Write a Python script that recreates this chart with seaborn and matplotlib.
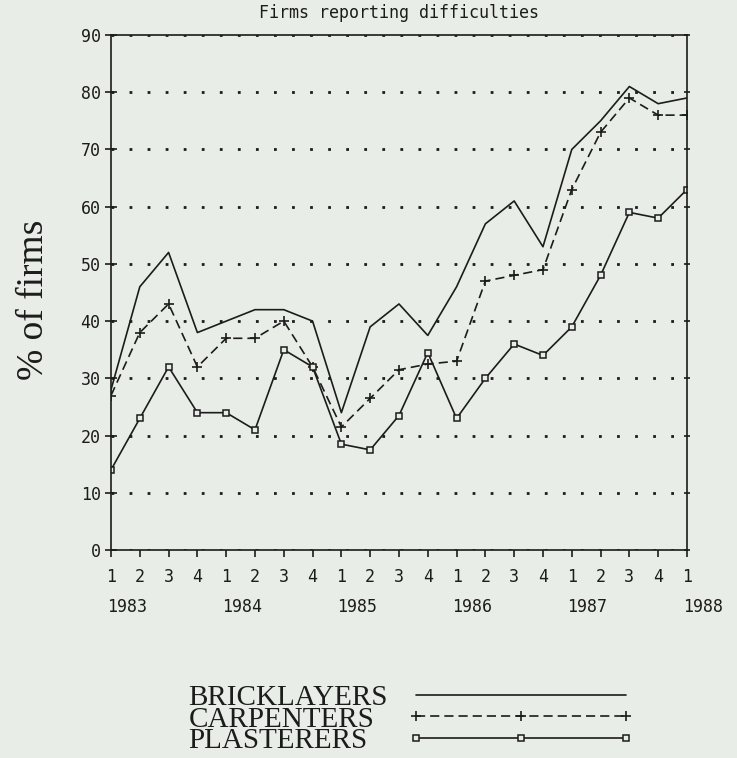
import pandas as pd
import matplotlib.pyplot as plt
import matplotlib.transforms as mtransforms
import seaborn as sns

# quarterly survey, 1983 Q1 .. 1988 Q1
quarters = ['1', '2', '3', '4'] * 5 + ['1']
years = ['1983', '1984', '1985', '1986', '1987', '1988']
bricklayers = [28, 46, 52, 38, 40, 42, 42, 40, 24, 39, 43, 37.5, 46, 57, 61, 53, 70, 75, 81, 78, 79]
carpenters = [27, 38, 43, 32, 37, 37, 40, 32, 21.5, 26.5, 31.5, 32.5, 33, 47, 48, 49, 63, 73, 79, 76, 76]
plasterers = [14, 23, 32, 24, 24, 21, 35, 32, 18.5, 17.5, 23.5, 34.5, 23, 30, 36, 34, 39, 48, 59, 58, 63]

df = pd.DataFrame({'q': range(len(quarters)),
                   'BRICKLAYERS': bricklayers,
                   'CARPENTERS': carpenters,
                   'PLASTERERS': plasterers})

sns.set_theme(style='ticks')
paper = '#e9ede7'
ink = '#1c1c1c'
plt.rcParams['font.family'] = ['DejaVu Sans Mono']
plt.rcParams['axes.unicode_minus'] = False

fig = plt.figure(figsize=(7.37, 7.58), dpi=100, facecolor=paper)
ax = fig.add_axes([0.1506, 0.2744, 0.7815, 0.6794], facecolor=paper)

sns.lineplot(data=df, x='q', y='BRICKLAYERS', ax=ax, color=ink, lw=1.2,
             label='BRICKLAYERS')
sns.lineplot(data=df, x='q', y='CARPENTERS', ax=ax, color=ink, lw=1.2,
             linestyle=(0, (5.5, 3)), marker='+', markersize=6.5, mew=1.2,
             mec=ink, label='CARPENTERS')
sns.lineplot(data=df, x='q', y='PLASTERERS', ax=ax, color=ink, lw=1.2,
             marker='s', markersize=4.8, mfc=paper, mec=ink, mew=1.1,
             label='PLASTERERS')

ax.set_xlim(0, 20)
ax.set_ylim(0, 90)
ax.set_xticks(df['q'])
ax.set_xticklabels(quarters)
ax.set_yticks(range(0, 91, 10))
ax.set_xlabel('')
ax.set_ylabel('% of firms', family=['Liberation Serif'], fontsize=27, color=ink)
ax.yaxis.set_label_coords(-0.104, 0.485)

for s in ax.spines.values():
    s.set_visible(True)
    s.set_color(ink)
    s.set_linewidth(1.2)

ax.tick_params(axis='y', direction='inout', length=9, width=1.2, color=ink,
               labelsize=12, pad=3, labelcolor=ink)
ax.tick_params(axis='y', which='major', right=True)
ax.tick_params(axis='x', direction='out', length=5, width=1.2, color=ink,
               labelsize=12, pad=8, labelcolor=ink)
for t in ax.yaxis.get_major_ticks():
    t.tick2line.set_markersize(4)
ax.grid(axis='y', color=ink, linestyle=(0, (1, 5.5)), linewidth=2)
ax.grid(axis='x', visible=False)

trans = mtransforms.blended_transform_factory(ax.transData, ax.transAxes)
for i, yr in enumerate(years):
    ax.text(i * 4 - 0.15, -0.111, yr, transform=trans, ha='left', va='center',
            fontsize=12, color=ink)

ax.set_title('Firms reporting difficulties', fontsize=12, color=ink, pad=12)

ax.get_legend().remove()
handles, labels = ax.get_legend_handles_labels()
leg = fig.legend(handles, labels, loc='upper left', bbox_to_anchor=(0.236, 0.116),
                 frameon=False, markerfirst=False, handlelength=7.8,
                 handletextpad=0.15, labelspacing=-0.17, borderpad=0, numpoints=3,
                 prop={'family': 'Liberation Serif', 'size': 21}, labelcolor=ink)
# labels flush left, line samples flush right
for col in leg._legend_handle_box.get_children():
    for row in col.get_children():
        row.mode = 'expand'
        row.width = 446

fig.savefig('out.png', dpi=100, facecolor=paper)
